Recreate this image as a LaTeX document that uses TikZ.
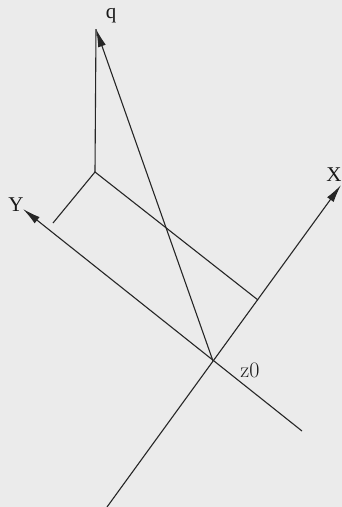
\documentclass[tikz,border=0pt]{standalone}
\usepackage{fontspec}
\newfontfamily\labelfont{Liberation Serif}
\usetikzlibrary{positioning,arrows.meta}

\begin{document}
\begin{tikzpicture}[
    x=1pt, y=-1pt,
    axis/.style={line width=1.1pt, black!85},
    vec/.style={axis, -{Latex[length=18pt, width=8pt]}},
    lbl/.style={inner sep=0pt, font=\fontsize{21}{24}\selectfont\labelfont, text=black!90},
  ]
  % --- paper ---
  \fill[black!8] (0,0) rectangle (342,507);
  \useasboundingbox (0,0) rectangle (342,507);

  % --- key points ---
  \coordinate (z0)   at (213,361);
  \coordinate (xtip) at (341,185);
  \coordinate (xend) at (107,507);
  \coordinate (ytip) at (23,209);
  \coordinate (yend) at (302,431);
  \coordinate (q)    at (96,29);
  \coordinate (p)    at (95,172);
  \coordinate (py)   at (53,223);
  \coordinate (px)   at (258,300);

  % --- axes through z0 ---
  \draw[vec] (xend) -- (xtip);
  \draw[vec] (yend) -- (ytip);

  % --- vector q and its projection ---
  \draw[vec] (z0) -- (q);
  \draw[axis] (p) -- (q);
  \draw[axis] (py) -- (p) -- (px);

  % --- labels ---
  \node[lbl] (qlbl) at (111,16)  {q};
  \node[lbl] (xlbl) at (334,175) {X};
  \node[lbl] (ylbl) at (16,205)  {Y};
  \node[lbl, font=\fontsize{22}{24}\selectfont\rmfamily] (zlbl) at (250,370) {z0};
\end{tikzpicture}
\end{document}
